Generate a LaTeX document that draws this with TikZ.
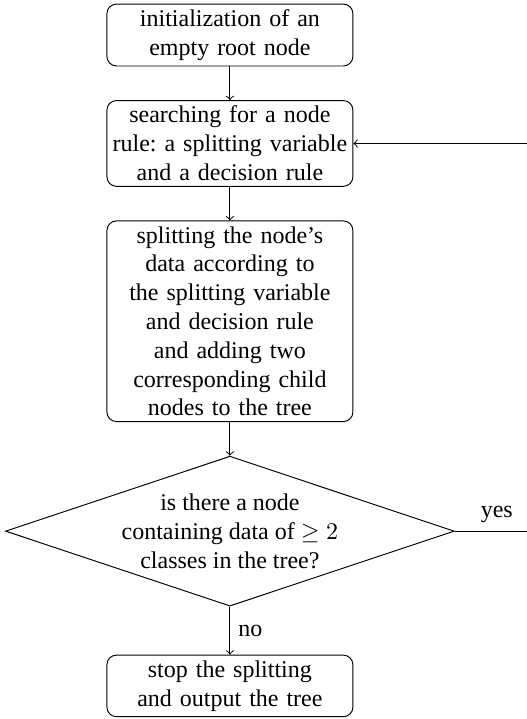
\documentclass[tikz,border=0pt]{standalone}
\usepackage{amsmath,amssymb}
\usepackage{fontspec}
\setmainfont{Liberation Serif}
\usetikzlibrary{positioning,shapes.geometric}
\frenchspacing

\begin{document}
\begin{tikzpicture}[every node/.style={font=\normalsize}, node distance=14pt,
	stepbox/.style={draw, rounded corners, text width=99.5pt, inner xsep=1.5pt, inner ysep=2.3pt, align=center},
	question/.style={draw, diamond, aspect=3, inner sep=0pt, align=center, minimum width=187pt, minimum height=62.5pt}]
	\useasboundingbox (0,0) rectangle (219.2pt,-299.6pt);
	\node[stepbox] (init) at (95.8pt,-14.6pt) {initialization of an empty root node};
	\node[stepbox, below=of init] (search) {searching for a node rule: a splitting variable and a decision rule};
	\node[stepbox, below=of search] (split) {splitting the node's data according to the splitting variable and decision rule and adding two corresponding child nodes to the tree};
	\node[question, below=of split] (check) {is there a node\\containing data of $\geq 2$\\classes in the tree?};
	\node[stepbox, below=20pt of check] (stop) {stop the splitting and output the tree};
	\draw[->] (init) -- (search);
	\draw[->] (search) -- (split);
	\draw[->] (split) -- (check);
	\draw[->] (check) -- node[right] {no} (stop);
	\draw[->] (check.east) -- node[above] {yes} ++(35pt,0) coordinate (back) |- (search.east);
\end{tikzpicture}
\end{document}
